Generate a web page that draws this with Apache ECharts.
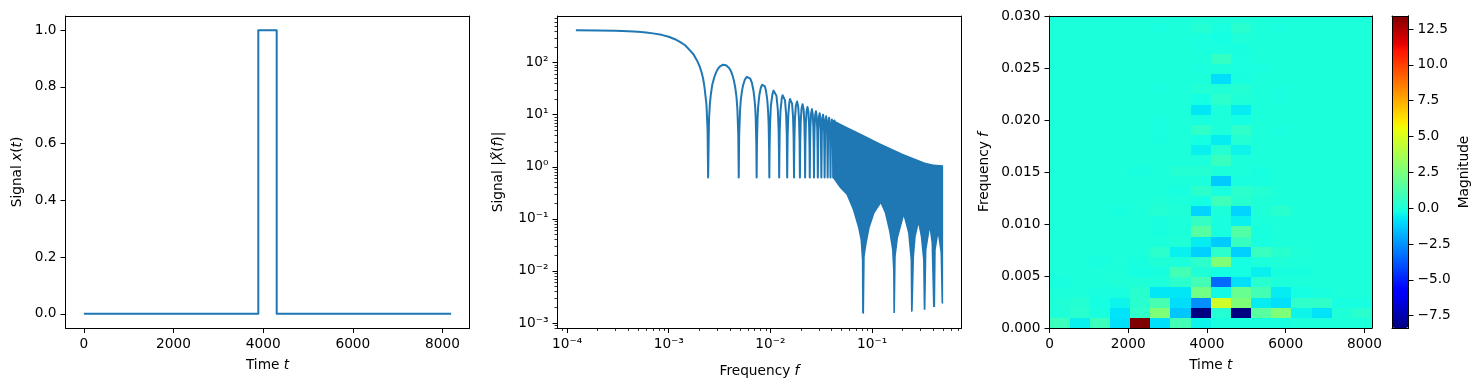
<!DOCTYPE html>
<html>
<head>
<meta charset="utf-8">
<style>
  html, body { margin: 0; padding: 0; background: #fff; }
  #main { width: 1480px; height: 390px; }
</style>
<script src="https://cdn.jsdelivr.net/npm/echarts@6/dist/echarts.min.js"></script>
</head>
<body>
<div id="main"></div>
<script>
var pulseTime = [0, 3891, 3891, 4301, 4301, 8192];
var pulseValue = [0, 0, 1, 1, 0, 0];

// spectrum, the part where single lobes can still be seen
var lobeFreq = [
  1.22e-4, 2e-4, 3e-4, 4e-4, 5e-4, 6e-4, 7e-4, 8.5e-4, 1e-3, 1.15e-3, 1.3e-3, 1.45e-3, 1.6e-3, 1.75e-3, 1.9e-3, 2e-3, 2.1e-3, 2.18e-3, 2.25e-3, 2.35e-3, 2.41e-3, 2.44e-3,
  2.49e-3, 2.54e-3, 2.59e-3, 2.68e-3, 2.81e-3, 2.93e-3, 3.05e-3, 3.17e-3, 3.3e-3, 3.42e-3, 3.54e-3, 3.66e-3, 3.78e-3, 3.9e-3, 4.03e-3, 4.15e-3, 4.27e-3, 4.39e-3, 4.51e-3, 4.64e-3, 4.73e-3, 4.83e-3, 4.88e-3,
  4.93e-3, 5.03e-3, 5.12e-3, 5.25e-3, 5.37e-3, 5.61e-3, 5.86e-3, 6.1e-3, 6.34e-3, 6.59e-3, 6.83e-3, 6.95e-3, 7.08e-3, 7.17e-3, 7.27e-3, 7.32e-3,
  7.37e-3, 7.47e-3, 7.56e-3, 7.69e-3, 7.81e-3, 8.05e-3, 8.3e-3, 8.54e-3, 8.78e-3, 9.03e-3, 9.27e-3, 9.39e-3, 9.51e-3, 9.61e-3, 9.71e-3, 9.76e-3,
  9.81e-3, 9.91e-3, 0.0101, 0.01049, 0.01074, 0.01098, 0.01123, 0.01147, 0.01183, 0.01205, 0.01215, 0.0122,
  0.01225, 0.01235, 0.01257, 0.01293, 0.01317, 0.01342, 0.01366, 0.01391, 0.01427, 0.01449, 0.01458, 0.01463,
  0.01468, 0.01478, 0.015, 0.01536, 0.0156, 0.01585, 0.0161, 0.01634, 0.0167, 0.01692, 0.01702, 0.01707,
  0.01712, 0.01722, 0.01744, 0.0178, 0.01829, 0.01878, 0.01914, 0.01936, 0.01946, 0.01951,
  0.01956, 0.01966, 0.01988, 0.02024, 0.02073, 0.02122, 0.02158, 0.0218, 0.02195,
  0.0221, 0.02232, 0.02268, 0.02317, 0.02366, 0.02402, 0.02424, 0.02439,
  0.02454, 0.02476, 0.02512, 0.02561, 0.0261, 0.02646, 0.02668, 0.02683,
  0.02698, 0.0272, 0.02756, 0.02805, 0.02854, 0.0289, 0.02912, 0.02927,
  0.02964, 0.03, 0.03049, 0.03098, 0.03134, 0.03171,
  0.03208, 0.03244, 0.03293, 0.03342, 0.03378, 0.03415,
  0.03452, 0.03488, 0.03537, 0.03586, 0.03622, 0.03659,
  0.03696, 0.03732, 0.0378, 0.03829, 0.03866, 0.03902,
  0.03939, 0.04024, 0.04109, 0.04146,
  0.04183, 0.04268, 0.0435, 0.0439
];
var lobeMag = [
  421, 416, 410, 402, 392, 379, 365, 342, 314, 282, 248, 216, 176, 145, 109, 87.5, 66, 49, 33, 15.6, 5, 0.62,
  8.2, 16.2, 23.7, 37.7, 53, 65.8, 76, 83.5, 88.6, 91.3, 91.5, 89.5, 85.6, 79.8, 72.5, 63.9, 54.3, 43.9, 33, 21.8, 13, 4.2, 0.62,
  4.2, 12.2, 19.8, 28.4, 35.9, 47.3, 53.3, 53.8, 49.2, 40.3, 28.2, 21.4, 14.3, 8.6, 2.8, 0.62,
  2.8, 8.2, 13.4, 19.3, 24.7, 32.9, 37.6, 38.4, 35.5, 29.4, 20.8, 15.8, 10.7, 6.4, 2.1, 0.62,
  2.1, 6.2, 14.7, 25.3, 29, 29.9, 27.8, 23.1, 12.6, 5, 1.65, 0.62,
  1.65, 5, 11.9, 20.5, 23.7, 24.4, 22.8, 19.1, 10.4, 4.2, 1.4, 0.62,
  1.4, 4.1, 9.9, 17.2, 20, 20.7, 19.4, 16.3, 9, 3.6, 1.2, 0.62,
  1.2, 3.6, 8.5, 14.9, 17.9, 14.1, 7.7, 3.2, 1.08, 0.62,
  1.06, 3.1, 7.5, 13.1, 15.9, 12.5, 6.9, 2.8, 0.62,
  2.8, 6.7, 11.6, 14.1, 11.2, 6.2, 2.5, 0.62,
  2.5, 6, 10.5, 12.8, 10.2, 5.7, 2.3, 0.62,
  2.3, 5.5, 9.7, 11.7, 9.3, 5.2, 2.1, 0.62,
  5, 8.9, 10.7, 8.7, 4.8, 0.62,
  4.6, 8.2, 10, 8, 4.4, 0.62,
  4.3, 7.6, 9.3, 7.4, 4.1, 0.62,
  4, 7.1, 8.7, 7, 3.9, 0.62,
  3.8, 8.1, 3.6, 0.62,
  3.5, 7.7, 3.3, 0.62
];

// spectrum, the solid band at high frequency: top and bottom edge
var bandTopFreq = [0.041, 0.056, 0.0692, 0.0881, 0.1138, 0.149, 0.2, 0.2735, 0.33, 0.398, 0.5];
var bandTopMag = [8.0, 5.9, 4.8, 3.8, 2.97, 2.32, 1.78, 1.39, 1.21, 1.11, 1.07];
var bandLowFreq = [
  0.041, 0.0481, 0.056, 0.0646, 0.0728, 0.0769, 0.0793, 0.0798, 0.0834, 0.0847, 0.0881, 0.0948, 0.106,
  0.1216, 0.1334, 0.147, 0.157, 0.1607, 0.162, 0.168, 0.171, 0.18, 0.205, 0.226, 0.239, 0.2415, 0.251,
  0.259, 0.269, 0.286, 0.301, 0.317, 0.322, 0.335, 0.343, 0.369, 0.384, 0.398, 0.417, 0.423, 0.446,
  0.471, 0.482, 0.5
];
var bandLowMag = [
  0.614, 0.394, 0.29, 0.149, 0.0673, 0.0396, 0.0164, 0.00156, 0.00149, 0.019, 0.0318, 0.0673, 0.129,
  0.195, 0.13, 0.0573, 0.0255, 0.0105, 0.00156, 0.00156, 0.019, 0.0427, 0.111, 0.0533, 0.0164, 0.00163, 0.00167,
  0.019, 0.0459, 0.0769, 0.0459, 0.0164, 0.0018, 0.0018, 0.0255, 0.0617, 0.0348, 0.00203, 0.00203, 0.0255, 0.048,
  0.0223, 0.00242, 0.00232
];

// spectrogram, one row per frequency bin from the bottom, 16 time bins each
var cellTime = 512;
var cellFreq = 1 / 1024;
var heatRows = [
  [0.8, -0.5, 0.8, -0.85, 13.41, -0.85, 1.0, -0.4, -0.1, -0.1, -0.1, -0.1, 0, 0, 0, 0],
  [0.1, 0.3, -0.1, -0.8, 0.5, 2.6, -1.4, -8.36, 0.2, -8.36, 1.6, 2.6, -0.4, -0.8, 0.1, 0.3],
  [0.1, 0.2, -0.2, -0.4, 0.3, 1.1, -0.9, -2.56, 4.7, 2.6, -0.6, -0.85, 0.5, 0.5, -0.15, -0.15],
  [0, 0, -0.1, -0.1, 0.3, -0.7, -0.7, 2.2, -0.3, 2.0, 1.0, -0.6, -0.2, -0.1, 0, 0],
  [-0.1, 0, 0, 0.1, 0.1, 0, 0.4, 1.0, -3.4, -0.85, 0.3, 0, 0, 0, 0, 0],
  [0, 0, 0, 0, -0.2, -0.1, 1.0, 0.1, -0.2, -0.2, -0.5, -0.1, -0.1, 0, 0, 0],
  [0, 0, -0.1, 0, -0.1, 0.1, 0, 0.4, 2.6, -0.2, 0, 0.1, 0, 0, 0, 0],
  [0, 0, 0, 0, 0, 0.4, -0.5, -1.2, 0.4, -1.2, 0.7, 0.3, 0.1, 0, 0, 0],
  [0, 0, 0, 0, 0, 0, 0.1, -0.6, -1.3, 0.7, -0.1, 0, 0, 0, 0, 0],
  [0, 0, 0, 0, 0, -0.1, 0, 1.5, -0.1, 1.4, -0.1, 0, 0, 0, 0, 0],
  [0, 0, 0, 0, 0, -0.1, 0, 0.6, -0.1, -0.5, 0, 0, 0, 0, 0, 0],
  [0, 0, 0, -0.1, 0, 0.2, 0.1, -1.1, 0, -1.1, 0.1, 0.3, 0, 0, 0, 0],
  [0, 0, 0, 0, 0, 0.1, 0, -0.2, 0.9, 0.3, 0.1, 0, 0, 0, 0, 0],
  [0, 0, 0, 0, 0, 0, -0.1, 0.4, -0.1, 0.4, 0.2, 0, 0, 0, 0, 0],
  [0, 0, 0, 0, 0, 0, 0, 0, -1.3, -0.1, -0.1, 0, 0, 0, 0, 0],
  [0, 0, 0, 0, -0.1, 0, 0.2, 0.2, 0, 0, -0.1, 0, 0, 0, 0, 0],
  [0, 0, 0, 0, 0, 0, 0, 0, 0.7, 0, 0, 0, 0, 0, 0, 0],
  [0, 0, 0, 0, 0, 0, 0, -0.5, 0.2, -0.4, 0, 0, 0, 0, 0, 0],
  [0, 0, 0, 0, 0, -0.1, 0, -0.2, -0.6, 0.2, 0, 0, 0, 0, 0, 0],
  [0, 0, 0, 0, 0, -0.05, 0, 0.5, 0, 0.5, 0, -0.05, 0, 0, 0, 0],
  [0, 0, 0, 0, 0, -0.05, 0, -0.1, 0, -0.2, 0, 0, 0, 0, 0, 0],
  [0, 0, 0, 0, 0, 0, 0, -0.7, 0, -0.6, 0, 0, 0, 0, 0, 0],
  [0, 0, 0, 0, 0, 0, 0, -0.2, 0.4, 0.1, 0, -0.05, 0, 0, 0, 0],
  [0, 0, 0, 0, 0, -0.05, 0, 0.15, 0.1, 0.2, 0, -0.05, 0, 0, 0, 0],
  [0, 0, 0, 0, 0, 0, 0, 0, -0.9, -0.1, 0, 0, 0, 0, 0, 0],
  [0, 0, 0, 0, 0, 0, 0, -0.05, 0, -0.05, -0.05, 0, 0, 0, 0, 0],
  [0, 0, 0, 0, 0, 0, 0, 0, 0.6, -0.05, 0, 0, 0, 0, 0, 0],
  [0, 0, 0, 0, 0, 0, 0, -0.05, -0.05, -0.1, 0, 0, 0, 0, 0, 0],
  [0, 0, 0, 0, 0, 0, 0, -0.05, -0.2, 0.05, 0, 0, 0, 0, 0, 0],
  [0, 0, 0, 0, 0, -0.05, 0, 0.2, -0.05, 0.3, 0, -0.05, 0, 0, 0, 0],
  [0, 0, 0, 0, 0, 0, 0, 0.05, 0, 0.05, 0, 0, 0, 0, 0, 0]
];

var pulseXTicks = [0, 2000, 4000, 6000, 8000];
var pulseYTicks = [0, 0.2, 0.4, 0.6, 0.8, 1.0];
var specXTicks = [1e-4, 1e-3, 1e-2, 1e-1];
var specYTicks = [1e-3, 1e-2, 1e-1, 1, 10, 100];
var heatXTicks = [0, 2000, 4000, 6000, 8000];
var heatYTicks = [0, 0.005, 0.01, 0.015, 0.02, 0.025, 0.03];
var barTicks = [-7.5, -5, -2.5, 0, 2.5, 5, 7.5, 10, 12.5];

var blue = '#1f77b4';
var font = 'DejaVu Sans';
var fontSize = 13.7;

function zip(a, b) {
  return a.map(function (v, i) { return [v, b[i]]; });
}

// matplotlib jet, sampled for the visualMap
function ramp(t, pts) {
  for (var i = 1; i < pts.length; i++) {
    if (t <= pts[i][0]) {
      var u = (t - pts[i - 1][0]) / (pts[i][0] - pts[i - 1][0]);
      return pts[i - 1][1] + u * (pts[i][1] - pts[i - 1][1]);
    }
  }
  return pts[pts.length - 1][1];
}
var jetColors = [];
for (var c = 0; c <= 128; c++) {
  var t = c / 128;
  var r = ramp(t, [[0, 0], [0.35, 0], [0.66, 1], [0.89, 1], [1, 0.5]]);
  var g = ramp(t, [[0, 0], [0.125, 0], [0.375, 1], [0.64, 1], [0.91, 0], [1, 0]]);
  var b = ramp(t, [[0, 0.5], [0.11, 1], [0.34, 1], [0.65, 0], [1, 0]]);
  jetColors.push('rgb(' + Math.round(r * 255) + ',' + Math.round(g * 255) + ',' + Math.round(b * 255) + ')');
}

// minor ticks of the log axes
var minorTicks = [];
for (var e = -5; e <= 3; e++) {
  for (var m = 2; m <= 9; m++) {
    minorTicks.push(m * Math.pow(10, e));
  }
}

var sup = { '-': '⁻', '0': '⁰', '1': '¹', '2': '²', '3': '³', '4': '⁴' };
function pow10Label(v) {
  var exp = String(Math.round(Math.log10(v)));
  return '10' + exp.split('').map(function (ch) { return sup[ch]; }).join('');
}
function minusLabel(digits) {
  return function (v) { return v.toFixed(digits).replace('-', '−'); };
}

var nameStyle = {
  fontFamily: font,
  fontSize: fontSize,
  color: '#000',
  rich: {
    i: { fontFamily: font, fontSize: fontSize, fontStyle: 'italic', color: '#000' }
  }
};

function mainAxis(o) {
  return Object.assign({
    z: 10,
    splitLine: { show: false },
    axisLine: { show: true, onZero: false, lineStyle: { color: '#000', width: 1 } },
    axisTick: { show: true, length: 5, lineStyle: { color: '#000', width: 1 }, customValues: o.ticks },
    axisLabel: {
      show: true, customValues: o.ticks, margin: 9, color: '#000',
      fontFamily: font, fontSize: fontSize, formatter: o.fmt
    },
    nameLocation: 'middle',
    nameTextStyle: nameStyle
  }, o);
}
// axis with no labels, for the other two sides of the frame and for minor ticks
function bareAxis(o) {
  return Object.assign({
    z: 10,
    splitLine: { show: false },
    axisLine: { show: false, onZero: false, lineStyle: { color: '#000', width: 1 } },
    axisTick: { show: false },
    axisLabel: { show: false }
  }, o);
}
function frameAxes(gridIndex, xType, xMin, xMax, yType, yMin, yMax) {
  xAxes.push(bareAxis({ gridIndex: gridIndex, type: xType, min: xMin, max: xMax, position: 'top',
    axisLine: { show: true, onZero: false, lineStyle: { color: '#000', width: 1 } } }));
  yAxes.push(bareAxis({ gridIndex: gridIndex, type: yType, min: yMin, max: yMax, position: 'right',
    axisLine: { show: true, onZero: false, lineStyle: { color: '#000', width: 1 } } }));
}

var xAxes = [];
var yAxes = [];

// 0: pulse
xAxes.push(mainAxis({
  gridIndex: 0, type: 'value', min: -409.6, max: 8601.6, ticks: pulseXTicks, fmt: minusLabel(0),
  name: 'Time {i|t}', nameGap: 30
}));
yAxes.push(mainAxis({
  gridIndex: 0, type: 'value', min: -0.05, max: 1.05, ticks: pulseYTicks, fmt: minusLabel(1),
  name: 'Signal {i|x}({i|t})', nameGap: 41, nameRotate: 90
}));
// 1: spectrum
var specXMin = 8.05e-5, specXMax = 0.758, specYMin = 8e-4, specYMax = 787;
xAxes.push(mainAxis({
  gridIndex: 1, type: 'log', min: specXMin, max: specXMax, ticks: specXTicks, fmt: pow10Label,
  name: 'Frequency {i|f}', nameGap: 36
}));
yAxes.push(mainAxis({
  gridIndex: 1, type: 'log', min: specYMin, max: specYMax, ticks: specYTicks, fmt: pow10Label,
  name: 'Signal |{i|X̃}({i|f})|', nameGap: 52, nameRotate: 90
}));
// 2: spectrogram
xAxes.push(mainAxis({
  gridIndex: 2, type: 'value', min: 0, max: 8192, ticks: heatXTicks, fmt: minusLabel(0),
  name: 'Time {i|t}', nameGap: 30
}));
yAxes.push(mainAxis({
  gridIndex: 2, type: 'value', min: 0, max: 0.03, ticks: heatYTicks, fmt: minusLabel(3),
  name: 'Frequency {i|f}', nameGap: 58, nameRotate: 90
}));
// 3: colorbar, only the scale on the right
xAxes.push(bareAxis({ gridIndex: 3, type: 'value', min: 0, max: 1, position: 'bottom',
  axisLine: { show: true, onZero: false, lineStyle: { color: '#000', width: 1 } } }));
yAxes.push(mainAxis({
  gridIndex: 3, type: 'value', min: -8.36, max: 13.41, position: 'right', ticks: barTicks, fmt: minusLabel(1),
  name: 'Magnitude', nameGap: 49, nameRotate: 90
}));

// frames, indexes 4.. on x and y
frameAxes(0, 'value', -409.6, 8601.6, 'value', -0.05, 1.05);
frameAxes(1, 'log', specXMin, specXMax, 'log', specYMin, specYMax);
frameAxes(2, 'value', 0, 8192, 'value', 0, 0.03);
frameAxes(3, 'value', 0, 1, 'value', -8.36, 13.41);
// log minor ticks, extra axes on the spectrum grid
xAxes.push(bareAxis({
  gridIndex: 1, type: 'log', min: specXMin, max: specXMax, position: 'bottom',
  axisTick: { show: true, length: 3, lineStyle: { color: '#000', width: 0.8 }, customValues: minorTicks }
}));
yAxes.push(bareAxis({
  gridIndex: 1, type: 'log', min: specYMin, max: specYMax, position: 'left',
  axisTick: { show: true, length: 3, lineStyle: { color: '#000', width: 0.8 }, customValues: minorTicks }
}));
// a second left axis for the colorbar frame
yAxes.push(bareAxis({ gridIndex: 3, type: 'value', min: -8.36, max: 13.41, position: 'left',
  axisLine: { show: true, onZero: false, lineStyle: { color: '#000', width: 1 } } }));

var heatData = [];
heatRows.forEach(function (row, j) {
  row.forEach(function (v, i) {
    heatData.push([i * cellTime, j * cellFreq, v]);
  });
});

var chart = echarts.init(document.getElementById('main'), null, { renderer: 'canvas' });

option = {
  animation: false,
  backgroundColor: '#fff',
  textStyle: { fontFamily: font },
  grid: [
    { left: 65.5, top: 16, width: 404, height: 312 },
    { left: 557.5, top: 16, width: 404, height: 312 },
    { left: 1049.5, top: 16, width: 322.5, height: 312 },
    { left: 1392, top: 16, width: 16.5, height: 312 }
  ],
  xAxis: xAxes,
  yAxis: yAxes,
  visualMap: {
    type: 'continuous',
    seriesIndex: 3,
    dimension: 2,
    min: -8.36,
    max: 13.41,
    left: 1392,
    top: 16,
    padding: 0,
    itemWidth: 16.5,
    itemHeight: 312,
    text: null,
    showLabel: false,
    calculable: false,
    hoverLink: false,
    inRange: { color: jetColors }
  },
  series: [
    {
      name: 'pulse',
      type: 'line',
      xAxisIndex: 0,
      yAxisIndex: 0,
      showSymbol: false,
      lineStyle: { color: blue, width: 2, join: 'round' },
      data: zip(pulseTime, pulseValue)
    },
    {
      name: 'spectrum',
      type: 'line',
      xAxisIndex: 1,
      yAxisIndex: 1,
      showSymbol: false,
      lineStyle: { color: blue, width: 2, join: 'round' },
      data: zip(lobeFreq, lobeMag)
    },
    {
      name: 'spectrum band',
      type: 'custom',
      xAxisIndex: 1,
      yAxisIndex: 1,
      data: [[bandTopFreq[0], bandTopMag[0]]],
      renderItem: function (params, api) {
        var pts = zip(bandTopFreq, bandTopMag).concat(zip(bandLowFreq, bandLowMag).reverse());
        return {
          type: 'polygon',
          shape: { points: pts.map(function (p) { return api.coord(p); }) },
          style: { fill: blue }
        };
      }
    },
    {
      name: 'spectrogram',
      type: 'custom',
      xAxisIndex: 2,
      yAxisIndex: 2,
      clip: true,
      encode: { x: 0, y: 1 },
      data: heatData,
      renderItem: function (params, api) {
        var p0 = api.coord([api.value(0), api.value(1)]);
        var p1 = api.coord([api.value(0) + cellTime, api.value(1) + cellFreq]);
        var x0 = Math.round(p0[0]), x1 = Math.round(p1[0]);
        var y0 = Math.round(p0[1]), y1 = Math.round(p1[1]);
        return {
          type: 'rect',
          shape: { x: x0, y: y1, width: x1 - x0, height: y0 - y1 },
          style: { fill: api.visual('color') }
        };
      }
    }
  ]
};

chart.setOption(option);
</script>
</body>
</html>
